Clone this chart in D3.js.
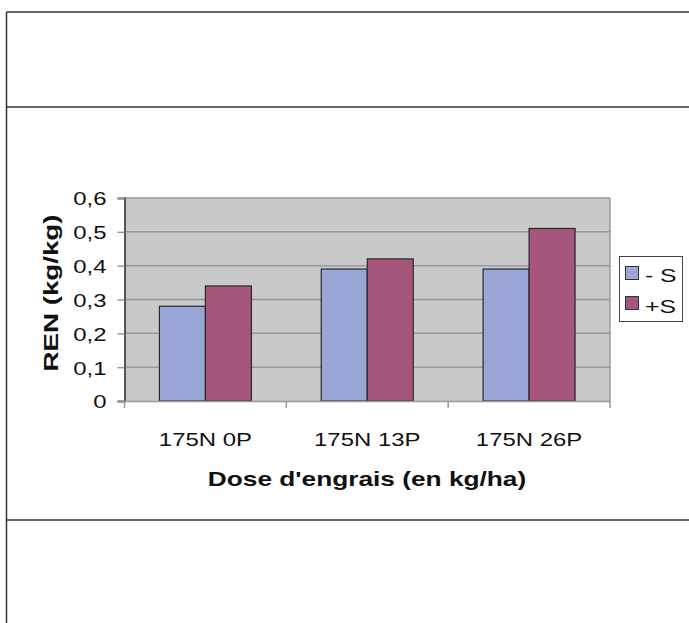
<!DOCTYPE html>
<html><head><meta charset="utf-8">
<script src="https://cdn.jsdelivr.net/npm/d3@7/dist/d3.min.js"></script>
<style>body{margin:0;background:#fff}svg{display:block}</style>
</head><body>
<script>
const categories = ["175N 0P", "175N 13P", "175N 26P"];
const seriesNames = ["- S", "+S"];
const minusS = [0.28, 0.39, 0.39];
const plusS = [0.34, 0.42, 0.51];
const yTicks = [0, 0.1, 0.2, 0.3, 0.4, 0.5, 0.6];
const colors = ["#99a6d6", "#a5567a"];

const FONT = "Liberation Sans, Arial, sans-serif";
const W = 689, H = 623;
const svg = d3.select("body").append("svg").attr("width", W).attr("height", H);

// stretch text horizontally (along its own direction) around its anchor x
function stretch(sel, k) {
  sel.each(function() {
    const t = d3.select(this);
    const x = +t.attr("x") || 0;
    const prev = t.attr("transform") || "";
    t.attr("transform", `${prev} translate(${x * (1 - k)},0) scale(${k},1)`);
  });
}

// outer frame lines
const fr = svg.append("g").attr("stroke", "#333").attr("stroke-width", 1.5);
fr.append("line").attr("x1", 6.5).attr("x2", W).attr("y1", 12).attr("y2", 12);
fr.append("line").attr("x1", 6.5).attr("x2", 6.5).attr("y1", 12).attr("y2", H);
fr.append("line").attr("x1", 6.5).attr("x2", W).attr("y1", 107).attr("y2", 107);
fr.append("line").attr("x1", 6.5).attr("x2", W).attr("y1", 520).attr("y2", 520);

const L = 124.5, R = 610, T = 198, B = 401;
const x0 = d3.scaleBand().domain(categories).range([L, R]).paddingInner(0).paddingOuter(0);
const y = d3.scaleLinear().domain([0, 0.6]).range([B, T]);

svg.append("rect").attr("x", L).attr("y", T).attr("width", R - L).attr("height", B - T).attr("fill", "#c8c9cb");

// gridlines
svg.append("g").selectAll("line").data(yTicks.filter(d => d > 0)).join("line")
  .attr("x1", L).attr("x2", R).attr("y1", d => y(d)).attr("y2", d => y(d))
  .attr("stroke", "#999").attr("stroke-width", 1.5);
svg.append("line").attr("x1", R).attr("x2", R).attr("y1", T).attr("y2", B).attr("stroke", "#999").attr("stroke-width", 1.5);

// bars
const data = categories.map((c, i) => ({c, v: [minusS[i], plusS[i]]}));
const bw = 46;
const g = svg.append("g");
data.forEach(d => {
  const cx = x0(d.c) + x0.bandwidth() / 2;
  d.v.forEach((v, j) => {
    g.append("rect")
      .attr("x", cx - bw + j * bw).attr("y", y(v))
      .attr("width", bw).attr("height", y(0) - y(v))
      .attr("fill", colors[j]).attr("stroke", "#2a2a2a").attr("stroke-width", 1.2);
  });
});

// y axis
const ya = svg.append("g").attr("transform", `translate(${L},0)`)
  .call(d3.axisLeft(y).tickValues(yTicks).tickSize(7).tickPadding(11)
    .tickFormat(d => d3.format(".1f")(d).replace(".", ",").replace(/^0,0$/, "0")));
ya.select(".domain").attr("stroke", "#555").attr("stroke-width", 2);
ya.selectAll(".tick line").attr("stroke", "#999").attr("stroke-width", 1.5);
ya.selectAll("text").attr("font-family", FONT).attr("font-size", 19).attr("fill", "#111").attr("dy", "0.36em");
stretch(ya.selectAll("text"), 1.26);

// x axis
const xa = svg.append("g").attr("transform", `translate(0,${B})`)
  .call(d3.axisBottom(x0).tickSize(0).tickPadding(30));
xa.select(".domain").attr("stroke", "#999").attr("stroke-width", 1.5).attr("d", `M${L-7},0.5H${R}`);
xa.selectAll("text").attr("font-family", FONT).attr("font-size", 19).attr("fill", "#111")
  .attr("dy", null).attr("y", 45);
stretch(xa.selectAll("text"), 1.26);
svg.append("g").selectAll("line").data([L, L + x0.step(), L + 2 * x0.step(), R]).join("line")
  .attr("x1", d => d).attr("x2", d => d).attr("y1", B).attr("y2", B + 7)
  .attr("stroke", "#999").attr("stroke-width", 1.5);

// titles
const xt = svg.append("text").attr("x", 367).attr("y", 486).attr("text-anchor", "middle")
  .attr("font-family", FONT).attr("font-weight", "bold").attr("font-size", 21).attr("fill", "#111")
  .text("Dose d'engrais (en kg/ha)");
stretch(xt, 1.25);
const ytg = svg.append("g").attr("transform", "translate(58,293) rotate(-90)");
const yt = ytg.append("text").attr("x", 0).attr("y", 0).attr("text-anchor", "middle")
  .attr("font-family", FONT).attr("font-weight", "bold").attr("font-size", 21).attr("fill", "#111")
  .text("REN (kg/kg)");
stretch(yt, 1.32);

// legend
const lg = svg.append("g");
lg.append("rect").attr("x", 619.5).attr("y", 256.5).attr("width", 63).attr("height", 65).attr("fill", "#fff").attr("stroke", "#444").attr("stroke-width", 1);
seriesNames.forEach((s, i) => {
  lg.append("rect").attr("x", 625.5).attr("y", 266.5 + i * 30).attr("width", 13).attr("height", 13)
    .attr("fill", colors[i]).attr("stroke", "#333").attr("stroke-width", 1);
  const t = lg.append("text").attr("x", 645).attr("y", 282 + i * 31)
    .attr("font-family", FONT).attr("font-size", 19).attr("fill", "#111").text(s);
  stretch(t, 1.3);
});
</script>
</body></html>
